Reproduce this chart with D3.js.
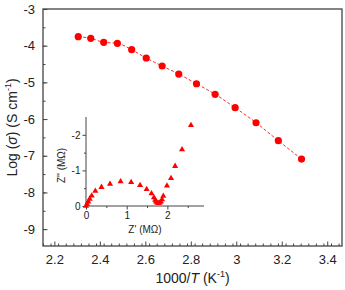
<!DOCTYPE html>
<html><head><meta charset="utf-8">
<script src="https://cdn.jsdelivr.net/npm/d3@7"></script>
<style>body{margin:0;background:#fff}svg{display:block;font-family:"Liberation Sans",Arial,sans-serif}</style>
</head><body><svg id="c" width="345" height="290"></svg>
<script>
// Main data: 1000/T vs log(sigma)
const invT = [2.305, 2.36, 2.417, 2.477, 2.54, 2.604, 2.674, 2.747, 2.825, 2.907, 2.995, 3.087, 3.185, 3.287];
const logSigma = [-3.755, -3.80, -3.908, -3.935, -4.11, -4.336, -4.554, -4.773, -5.037, -5.326, -5.69, -6.10, -6.59, -7.09];
const xTicks = [2.2, 2.4, 2.6, 2.8, 3.0, 3.2, 3.4];
const yTicks = [-3, -4, -5, -6, -7, -8, -9];
// Inset: Nyquist plot
const zRe = [0, 0.025, 0.057, 0.09, 0.14, 0.23, 0.38, 0.59, 0.85, 1.11, 1.33, 1.49, 1.61, 1.67, 1.70, 1.72, 1.75, 1.78, 1.81, 1.84, 1.87, 1.90, 1.99, 2.09, 2.19, 2.36, 2.58];
const zIm = [0, -0.056, -0.12, -0.2, -0.29, -0.42, -0.53, -0.62, -0.69, -0.67, -0.58, -0.47, -0.35, -0.24, -0.17, -0.12, -0.09, -0.08, -0.09, -0.12, -0.18, -0.28, -0.57, -0.78, -1.12, -1.59, -2.27];
const insetXTicks = [0, 1, 2];
const insetYTicks = [0, -1, -2];

const svg = d3.select("#c");
const L = 43, R = 342, T = 9, B = 246;
const x = d3.scaleLinear().domain([2.15, 3.465]).range([L, R]);
const y = d3.scaleLinear().domain([-9.46, -3]).range([B, T]);
const axisCol = "#444";

// minor ticks
const xMinor = d3.range(2.15, 3.466, 0.2/6).map(v => +v.toFixed(4)).filter(v => v >= 2.15 && v <= 3.465);
const yMinor = d3.range(-9.0, -2.99, 0.5).map(v => +v.toFixed(2));

const gx = svg.append("g").attr("transform", `translate(0,${B})`);
gx.call(d3.axisBottom(x).tickValues(xMinor).tickSize(-2.5).tickFormat(""));
gx.append("g").call(d3.axisBottom(x).tickValues(xTicks).tickSize(-4.5).tickPadding(9).tickFormat(d => d3.format("")(+d.toFixed(1))));
gx.selectAll(".domain").remove();
gx.selectAll("line").attr("stroke", axisCol);
gx.selectAll("text").attr("font-size", 13).attr("fill", "#222").attr("font-family", "Liberation Sans, Arial, sans-serif");

const gy = svg.append("g").attr("transform", `translate(${L},0)`);
gy.call(d3.axisLeft(y).tickValues(yMinor).tickSize(-2.5).tickFormat(""));
gy.append("g").call(d3.axisLeft(y).tickValues(yTicks).tickSize(-4.5).tickPadding(8).tickFormat(d => String(d)));
gy.selectAll(".domain").remove();
gy.selectAll("line").attr("stroke", axisCol);
gy.selectAll("text").attr("font-size", 13).attr("fill", "#222").attr("font-family", "Liberation Sans, Arial, sans-serif");

// frame
svg.append("rect").attr("x", L).attr("y", T).attr("width", R - L).attr("height", B - T)
  .attr("fill", "none").attr("stroke", axisCol).attr("stroke-width", 1.3);

// axis titles
const xt = svg.append("text").attr("x", (L + R) / 2).attr("y", 283).attr("text-anchor", "middle")
  .attr("font-size", 14).attr("fill", "#222");
xt.append("tspan").text("1000/");
xt.append("tspan").attr("font-style", "italic").text("T");
xt.append("tspan").text(" (K");
xt.append("tspan").attr("font-size", 9).attr("dy", -6).text("-1");
xt.append("tspan").attr("dy", 6).text(")");

const yt = svg.append("text").attr("transform", `translate(17,${(T + B) / 2}) rotate(-90)`)
  .attr("text-anchor", "middle").attr("font-size", 14).attr("fill", "#222");
yt.append("tspan").text("Log (");
yt.append("tspan").attr("font-style", "italic").text("σ");
yt.append("tspan").text(") (S cm");
yt.append("tspan").attr("font-size", 9).attr("dy", -6).text("-1");
yt.append("tspan").attr("dy", 6).text(")");

// main line + points
const pts = invT.map((v, i) => [v, logSigma[i]]);
svg.append("path").datum(pts)
  .attr("d", d3.line().x(d => x(d[0])).y(d => y(d[1])).curve(d3.curveMonotoneX))
  .attr("fill", "none").attr("stroke", "#f03030").attr("stroke-width", 1).attr("stroke-dasharray", "3,2");
svg.append("g").selectAll("circle").data(pts).join("circle")
  .attr("cx", d => x(d[0])).attr("cy", d => y(d[1])).attr("r", 3.6).attr("fill", "#ff0000");

// Inset
const iL = 86, iR = 204, iT = 117, iB = 206;
const ix = d3.scaleLinear().domain([0, 2.9]).range([iL, iR]);
const iy = d3.scaleLinear().domain([0, -2.5]).range([iB, iT]);
const igx = svg.append("g").attr("transform", `translate(0,${iB})`);
igx.call(d3.axisBottom(ix).tickValues([0.5, 1.5, 2.5]).tickSize(2).tickFormat(""));
igx.append("g").call(d3.axisBottom(ix).tickValues(insetXTicks).tickSize(3.5).tickPadding(2).tickFormat(d => String(d)));
igx.selectAll(".domain").remove();
const igy = svg.append("g").attr("transform", `translate(${iL},0)`);
igy.call(d3.axisLeft(iy).tickValues([-0.5, -1.5]).tickSize(2).tickFormat(""));
igy.append("g").call(d3.axisLeft(iy).tickValues(insetYTicks).tickSize(3.5).tickPadding(2).tickFormat(d => d === 0 ? "0" : String(d)));
igy.selectAll(".domain").remove();
svg.selectAll("g").filter(function(){return this.parentNode===igx.node()||this.parentNode===igy.node()||this===igx.node()||this===igy.node();});
[igx, igy].forEach(g => {
  g.selectAll("line").attr("stroke", axisCol);
  g.selectAll("text").attr("font-size", 10).attr("fill", "#222").attr("font-family", "Liberation Sans, Arial, sans-serif");
});
svg.append("line").attr("x1", iL).attr("x2", iR).attr("y1", iB).attr("y2", iB).attr("stroke", axisCol).attr("stroke-width", 1);
svg.append("line").attr("x1", iL).attr("x2", iL).attr("y1", iT).attr("y2", iB).attr("stroke", axisCol).attr("stroke-width", 1);

svg.append("text").attr("x", (iL + iR) / 2).attr("y", 233).attr("text-anchor", "middle")
  .attr("font-size", 10).attr("fill", "#222").text("Z' (MΩ)");
svg.append("text").attr("transform", `translate(65,${(iT + iB) / 2 + 4}) rotate(-90)`)
  .attr("text-anchor", "middle").attr("font-size", 10).attr("fill", "#222").text("Z'' (MΩ)");

const ipts = zRe.map((v, i) => [v, zIm[i]]);
svg.append("g").selectAll("path").data(ipts).join("path")
  .attr("d", d3.symbol().type(d3.symbolTriangle).size(16))
  .attr("transform", d => `translate(${ix(d[0])},${iy(d[1])})`)
  .attr("fill", "#ff0000");
</script></body></html>
